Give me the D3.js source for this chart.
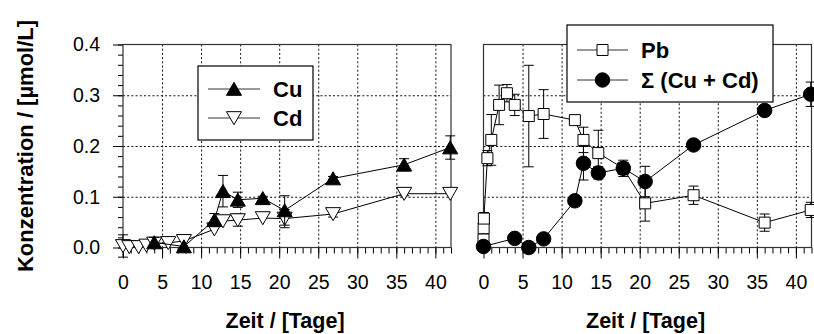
<!DOCTYPE html>
<html>
<head>
<meta charset="utf-8">
<script src="https://cdn.jsdelivr.net/npm/d3@7"></script>
<style>
  html, body { margin: 0; padding: 0; background: #fff; }
  svg { display: block; font-family: "Liberation Sans", Arial, sans-serif; }
</style>
</head>
<body>
<svg id="chart" width="814" height="334"></svg>
<script>
// Sampling days and measured concentrations (µmol/L) with standard deviations
const cuDays = [4, 7.8, 11.7, 12.8, 14.7, 17.9, 20.7, 26.9, 36.0, 41.9];
const cuValues = [0.010, 0.002, 0.054, 0.111, 0.094, 0.097, 0.073, 0.136, 0.163, 0.197];
const cuErr = [0.010, 0, 0.013, 0.031, 0.015, 0.004, 0.029, 0.004, 0.012, 0.023];

const cdDays = [0, 0.8, 2.0, 3.0, 4.0, 5.8, 7.8, 11.7, 12.8, 14.7, 17.9, 20.7, 26.9, 36.0, 41.9];
const cdValues = [0.003, 0.001, 0.001, 0.004, 0.008, 0.009, 0.013, 0.036, 0.052, 0.054, 0.058, 0.057, 0.066, 0.106, 0.106];
const cdErr = [0.022, 0, 0, 0, 0, 0, 0, 0, 0, 0.012, 0, 0.018, 0.006, 0.004, 0];

const pbDays = [0, 0.02, 0.05, 0.5, 1, 2, 3, 4, 5.8, 7.7, 11.7, 12.8, 14.7, 17.9, 20.7, 26.9, 36.0, 41.9];
const pbValues = [0.016, 0.038, 0.057, 0.176, 0.212, 0.281, 0.304, 0.281, 0.259, 0.263, 0.251, 0.212, 0.186, 0.156, 0.087, 0.103, 0.049, 0.074];
const pbErr = [0, 0.010, 0.012, 0.015, 0.050, 0.039, 0.017, 0.021, 0.100, 0.048, 0.008, 0.025, 0.045, 0.012, 0.035, 0.018, 0.017, 0.015];

const sumDays = [0, 4, 5.8, 7.7, 11.7, 12.8, 14.7, 17.9, 20.7, 26.9, 36.0, 41.9];
const sumValues = [0.002, 0.018, 0.000, 0.017, 0.092, 0.166, 0.147, 0.156, 0.130, 0.202, 0.270, 0.302];
const sumErr = [0.002, 0.008, 0, 0, 0.010, 0.033, 0.012, 0.016, 0.030, 0.004, 0.010, 0.024];

const xTickLabels = [0, 5, 10, 15, 20, 25, 30, 35, 40];
const yTickLabels = [0.0, 0.1, 0.2, 0.3, 0.4];

const xTitle = "Zeit / [Tage]";
const yTitle = "Konzentration / [µmol/L]";

const svg = d3.select("#chart");
const FONT_TICK = 19.5;
const FONT_TITLE = 21.5;
const FONT_LEGEND = 22;

const y = d3.scaleLinear().domain([0, 0.4]).range([247.5, 44.5]);

function zip(days, values, errs) {
  return days.map((d, i) => ({ d, v: values[i], e: errs[i] }));
}

const symTri = d3.symbol().type(d3.symbolTriangle).size(98);
const symSquare = d3.symbol().type(d3.symbolSquare).size(121);
const symCircle = d3.symbol().type(d3.symbolCircle).size(165);

function markerPath(kind) {
  if (kind === "triUp" || kind === "triDown") return symTri();
  if (kind === "square") return symSquare();
  return symCircle();
}
function markerStyle(sel, kind) {
  const filled = kind === "triUp" || kind === "circle";
  sel.attr("d", markerPath(kind))
    .attr("fill", filled ? "#000" : "#fff")
    .attr("stroke", "#000")
    .attr("stroke-width", 1);
}
// downward triangle: same path rotated 180°
function markerTransform(kind, px, py) {
  const dy = kind === "triUp" ? 2 : kind === "triDown" ? -2 : 0;
  return `translate(${px},${py + dy})` + (kind === "triDown" ? " rotate(180)" : "");
}

function drawPanel(x0, x1, showYAxis, seriesList) {
  const x = d3.scaleLinear().domain([0, 42]).range([x0, x1]);
  const g = svg.append("g");

  // dotted grid
  const grid = g.append("g").attr("stroke", "#111").attr("stroke-width", 1)
    .attr("stroke-dasharray", "2,2.2");
  grid.selectAll("line.gx").data(xTickLabels.filter(v => v > 0))
    .join("line").attr("x1", d => x(d) + 0.5).attr("x2", d => x(d) + 0.5)
    .attr("y1", y(0.4)).attr("y2", y(0));
  grid.selectAll("line.gy").data(yTickLabels.filter(v => v > 0 && v < 0.4))
    .join("line").attr("x1", x(0)).attr("x2", x(42))
    .attr("y1", d => y(d) + 0.5).attr("y2", d => y(d) + 0.5);

  // x axis: minor ticks every day, major every 5 days
  const xMinor = d3.axisBottom(x).tickValues(d3.range(0, 43, 1)).tickSize(6).tickFormat("");
  const xMajor = d3.axisBottom(x).tickValues(xTickLabels).tickSize(11).tickPadding(17)
    .tickFormat(d3.format("d"));
  const gxm = g.append("g").attr("transform", `translate(0,${y(0)})`).call(xMinor);
  const gx = g.append("g").attr("transform", `translate(0,${y(0)})`).call(xMajor);
  [gxm, gx].forEach(a => { a.select(".domain").remove(); a.selectAll("line").attr("stroke", "#000"); });
  gx.selectAll("text").attr("font-size", FONT_TICK).attr("fill", "#000")
    .attr("font-family", "Liberation Sans, Arial, sans-serif");

  if (showYAxis) {
    const yMinor = d3.axisLeft(y).tickValues(d3.range(0, 0.401, 0.02)).tickSize(5).tickFormat("");
    const yMajor = d3.axisLeft(y).tickValues(yTickLabels).tickSize(10).tickPadding(13)
      .tickFormat(d3.format(".1f"));
    const gym = g.append("g").attr("transform", `translate(${x(0)},0)`).call(yMinor);
    const gy = g.append("g").attr("transform", `translate(${x(0)},0)`).call(yMajor);
    [gym, gy].forEach(a => { a.select(".domain").remove(); a.selectAll("line").attr("stroke", "#000"); });
    gy.selectAll("text").attr("font-size", FONT_TICK).attr("fill", "#000")
      .attr("font-family", "Liberation Sans, Arial, sans-serif");
  }

  // frame
  g.append("rect").attr("x", x(0)).attr("y", y(0.4))
    .attr("width", x(42) - x(0)).attr("height", y(0) - y(0.4))
    .attr("fill", "none").attr("stroke", "#333").attr("stroke-width", 1.2);

  // series: connecting line, error bars, markers
  seriesList.forEach(s => {
    const pts = zip(s.days, s.values, s.errs);
    const sg = g.append("g");
    sg.append("path").datum(pts)
      .attr("fill", "none").attr("stroke", "#000").attr("stroke-width", 1)
      .attr("d", d3.line().x(p => x(p.d)).y(p => y(p.v)));
    const eb = sg.append("g").attr("stroke", "#000").attr("stroke-width", 1);
    pts.filter(p => p.e > 0).forEach(p => {
      const px = x(p.d);
      eb.append("line").attr("x1", px).attr("x2", px).attr("y1", y(p.v - p.e)).attr("y2", y(p.v + p.e));
      eb.append("line").attr("x1", px - 5).attr("x2", px + 5).attr("y1", y(p.v + p.e)).attr("y2", y(p.v + p.e));
      eb.append("line").attr("x1", px - 5).attr("x2", px + 5).attr("y1", y(p.v - p.e)).attr("y2", y(p.v - p.e));
    });
    sg.selectAll("path.m").data(pts).join("path").attr("class", "m")
      .call(markerStyle, s.kind)
      .attr("transform", p => markerTransform(s.kind, x(p.d), y(p.v)));
  });

  // x title
  svg.append("text").attr("x", x(20.75)).attr("y", 328)
    .attr("text-anchor", "middle").attr("font-size", FONT_TITLE).attr("font-weight", "bold")
    .text(xTitle);
  return x;
}

drawPanel(123, 451, true, [
  { days: cdDays, values: cdValues, errs: cdErr, kind: "triDown" },
  { days: cuDays, values: cuValues, errs: cuErr, kind: "triUp" }
]);
drawPanel(483.5, 811.5, false, [
  { days: pbDays, values: pbValues, errs: pbErr, kind: "square" },
  { days: sumDays, values: sumValues, errs: sumErr, kind: "circle" }
]);

// y title
svg.append("text")
  .attr("transform", "translate(33,146) rotate(-90)")
  .attr("text-anchor", "middle").attr("font-size", 22).attr("font-weight", "bold")
  .text(yTitle);

// legends
function legend(bx, by, bw, bh, rows, lineX0, lineX1, textX) {
  const g = svg.append("g");
  g.append("rect").attr("x", bx).attr("y", by).attr("width", bw).attr("height", bh)
    .attr("fill", "#fff").attr("stroke", "#000").attr("stroke-width", 1.2);
  rows.forEach(r => {
    g.append("line").attr("x1", lineX0).attr("x2", lineX1).attr("y1", r.y).attr("y2", r.y)
      .attr("stroke", "#333").attr("stroke-width", 1);
    g.append("path").call(markerStyle, r.kind)
      .attr("transform", markerTransform(r.kind, (lineX0 + lineX1) / 2, r.y));
    g.append("text").attr("x", textX).attr("y", r.y).attr("dy", "0.36em")
      .attr("font-size", FONT_LEGEND).attr("font-weight", "bold").text(r.label);
  });
}
legend(198, 66, 115, 74, [
  { y: 89, kind: "triUp", label: "Cu" },
  { y: 118, kind: "triDown", label: "Cd" }
], 208, 260, 273);
legend(567, 25, 206, 77, [
  { y: 50, kind: "square", label: "Pb" },
  { y: 80, kind: "circle", label: "Σ (Cu + Cd)" }
], 577, 628, 641);
</script>
</body>
</html>
